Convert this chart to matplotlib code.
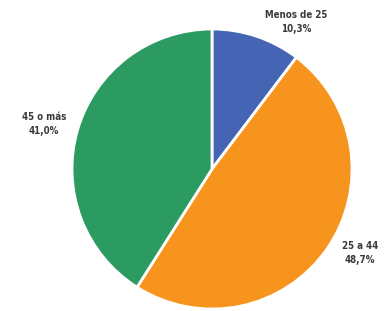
import matplotlib
matplotlib.use("Agg")
import matplotlib.pyplot as plt

grupos = ["Menos de 25", "25 a 44", "45 o más"]
porcentajes = [10.3, 48.7, 41.0]
colores = ["#4565B4", "#F7941E", "#2C9B62"]
explode = [0, 0.045, 0]

# posiciones de las etiquetas (en pixeles de la imagen)
pos_etiquetas = [(296, 22), (360, 253), (44, 124)]

fig = plt.figure(figsize=(3.86, 3.11), dpi=100)
ax = fig.add_axes([0, 0, 1, 1])
ax.axis("off")

# el eje y invertido cambia el sentido, asi que counterclock=True es horario en pantalla
ax.pie(porcentajes, colors=colores, startangle=-90, counterclock=True,
       center=(212, 169), radius=140, explode=explode,
       wedgeprops=dict(edgecolor="white", linewidth=2))
ax.set_xlim(0, 386)
ax.set_ylim(311, 0)
ax.set_aspect("equal")

for g, p, (x, y) in zip(grupos, porcentajes, pos_etiquetas):
    txt = g + "\n" + f"{p:.1f}".replace(".", ",") + "%"
    ax.text(x, y, txt, ha="center", va="center", fontsize=7, color="#3a3a3a",
            fontfamily="DejaVu Sans", fontstretch="condensed", fontweight="bold",
            linespacing=1.4)

fig.savefig("out.png", dpi=100)
